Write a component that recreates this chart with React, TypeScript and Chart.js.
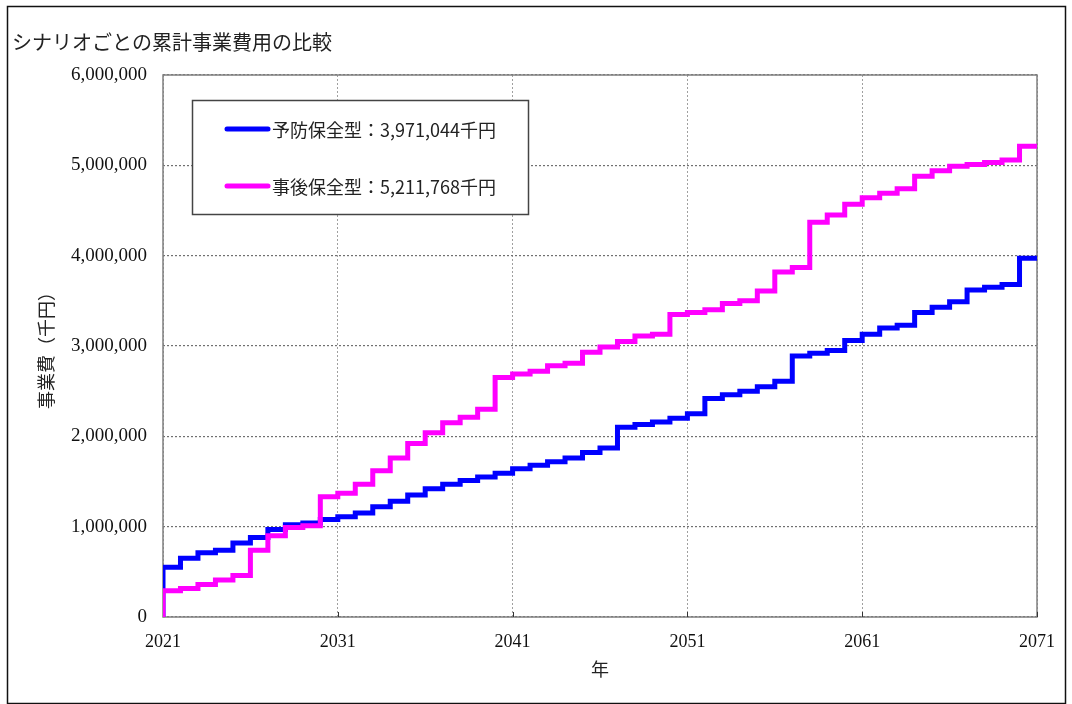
import React, { useEffect, useRef } from 'react';
import { Chart, registerables } from 'chart.js';

Chart.register(...registerables);

const chartTitle = 'シナリオごとの累計事業費用の比較';
const xAxisTitle = '年';
const yAxisTitle = '事業費（千円）';
const seriesNames = ['予防保全型', '事後保全型'];

const years = [
  2021, 2022, 2023, 2024, 2025, 2026, 2027, 2028, 2029, 2030,
  2031, 2032, 2033, 2034, 2035, 2036, 2037, 2038, 2039, 2040,
  2041, 2042, 2043, 2044, 2045, 2046, 2047, 2048, 2049, 2050,
  2051, 2052, 2053, 2054, 2055, 2056, 2057, 2058, 2059, 2060,
  2061, 2062, 2063, 2064, 2065, 2066, 2067, 2068, 2069, 2070,
  2071,
];

// cumulative cost (thousand yen), preventive maintenance
const preventive = [
  0,
  550000, 650000, 710000, 740000, 820000, 880000, 970000, 1020000, 1040000, 1080000,
  1110000, 1150000, 1220000, 1280000, 1350000, 1420000, 1470000, 1510000, 1550000, 1590000,
  1640000, 1680000, 1720000, 1760000, 1820000, 1870000, 2100000, 2130000, 2160000, 2200000,
  2250000, 2420000, 2460000, 2500000, 2550000, 2610000, 2890000, 2920000, 2950000, 3060000,
  3130000, 3200000, 3230000, 3370000, 3430000, 3490000, 3620000, 3650000, 3680000, 3971044,
];

// cumulative cost (thousand yen), corrective maintenance
const corrective = [
  0,
  290000, 315000, 360000, 410000, 460000, 740000, 900000, 990000, 1010000, 1330000,
  1370000, 1470000, 1620000, 1760000, 1920000, 2040000, 2150000, 2210000, 2300000, 2650000,
  2690000, 2720000, 2780000, 2810000, 2930000, 2990000, 3050000, 3110000, 3130000, 3350000,
  3370000, 3400000, 3470000, 3500000, 3610000, 3820000, 3870000, 4370000, 4450000, 4570000,
  4640000, 4690000, 4740000, 4880000, 4940000, 4990000, 5010000, 5030000, 5060000, 5211768,
];

const yTicksMax = 6000000;
const yTickStep = 1000000;
const xTickStep = 10;

const cjkFont = '"Noto Sans CJK JP", "Noto Sans", sans-serif';
const serifFont = '"Liberation Serif", "DejaVu Serif", serif';

const overlayPlugin = {
  id: 'overlay',
  beforeDatasetsDraw(chart: any) {
    const { ctx, chartArea: a } = chart;
    ctx.save();
    ctx.strokeStyle = '#808080';
    ctx.lineWidth = 1.5;
    ctx.strokeRect(a.left, a.top, a.right - a.left, a.bottom - a.top);
    const xs = chart.scales.x;
    ctx.strokeStyle = '#333';
    ctx.lineWidth = 1;
    xs.ticks.forEach((t: any) => {
      const px = Math.round(xs.getPixelForValue(t.value)) + 0.5;
      ctx.beginPath();
      ctx.moveTo(px, a.bottom);
      ctx.lineTo(px, a.bottom - 5);
      ctx.stroke();
    });
    ctx.restore();
  },
  afterDraw(chart: any) {
    const { ctx } = chart;
    ctx.save();
    // outer frame
    ctx.strokeStyle = '#111';
    ctx.lineWidth = 1.5;
    ctx.strokeRect(7.5, 6.5, 1058, 697);
    // title
    ctx.fillStyle = '#222';
    ctx.font = `20px ${cjkFont}`;
    ctx.textBaseline = 'middle';
    ctx.textAlign = 'left';
    ctx.fillText(chartTitle, 12, 42);
    // legend box
    ctx.fillStyle = '#fff';
    ctx.fillRect(192, 100, 336, 114);
    ctx.strokeStyle = '#444';
    ctx.lineWidth = 1.5;
    ctx.strokeRect(192.5, 100.5, 336, 114);
    chart.data.datasets.forEach((ds: any, i: number) => {
      const y = 129 + i * 57;
      ctx.strokeStyle = ds.borderColor;
      ctx.lineWidth = 5;
      ctx.lineCap = 'round';
      ctx.beginPath();
      ctx.moveTo(227, y);
      ctx.lineTo(268, y);
      ctx.stroke();
      ctx.fillStyle = '#222';
      ctx.font = `18px ${cjkFont}`;
      ctx.textBaseline = 'middle';
      ctx.fillText(ds.label, 272, y + 1);
    });
    ctx.restore();
  },
};

function legendText(name: string, values: number[]) {
  return `${name}：${values[values.length - 1].toLocaleString('en-US')}千円`;
}

export default function App() {
  const canvasRef = useRef<HTMLCanvasElement | null>(null);

  useEffect(() => {
    const canvas = canvasRef.current;
    if (!canvas) return;
    const chart = new Chart(canvas, {
      type: 'line',
      data: {
        datasets: [
          {
            label: legendText(seriesNames[0], preventive),
            data: years.map((yr, i) => ({ x: yr, y: preventive[i] })),
            borderColor: '#0000ff',
            backgroundColor: '#0000ff',
            borderWidth: 5,
            pointRadius: 0,
            stepped: 'after',
            fill: false,
            order: 1,
          },
          {
            label: legendText(seriesNames[1], corrective),
            data: years.map((yr, i) => ({ x: yr, y: corrective[i] })),
            borderColor: '#ff00ff',
            backgroundColor: '#ff00ff',
            borderWidth: 5,
            pointRadius: 0,
            stepped: 'after',
            fill: false,
            order: 0,
          },
        ],
      },
      options: {
        responsive: false,
        animation: false,
        devicePixelRatio: 1,
        layout: { padding: { left: 0, top: 75, right: 35, bottom: 0 } },
        plugins: {
          legend: { display: false },
          tooltip: { enabled: false },
          title: { display: false },
        },
        scales: {
          x: {
            type: 'linear',
            min: years[0],
            max: years[years.length - 1],
            afterFit: (s: any) => {
              s.height = 87;
            },
            ticks: {
              stepSize: xTickStep,
              padding: 14,
              color: '#111',
              font: { family: serifFont, size: 18 },
              callback: (v: any) => String(v),
            },
            grid: {
              drawTicks: false,
              color: '#a0a0a0',
              lineWidth: 1,
            },
            border: { display: false, dash: [2, 2] },
            title: {
              display: true,
              text: xAxisTitle,
              color: '#222',
              font: { family: cjkFont, size: 18 },
              padding: { top: 0, bottom: 24 },
            },
          },
          y: {
            type: 'linear',
            min: 0,
            max: yTicksMax,
            afterFit: (s: any) => {
              s.width = 163;
            },
            ticks: {
              stepSize: yTickStep,
              padding: 16,
              color: '#111',
              font: { family: serifFont, size: 19 },
            },
            grid: {
              drawTicks: false,
              color: '#707070',
              lineWidth: 1.2,
            },
            border: { display: false, dash: [2, 2] },
            title: {
              display: true,
              text: yAxisTitle,
              color: '#222',
              font: { family: cjkFont, size: 18 },
              padding: { top: 35, bottom: 0 },
            },
          },
        },
      },
      plugins: [overlayPlugin],
    } as any);
    return () => chart.destroy();
  }, []);

  return (
    <div style={{ position: 'absolute', left: 0, top: 0, width: 1072, height: 704, background: '#fff' }}>
      <canvas ref={canvasRef} width={1072} height={704} style={{ width: 1072, height: 704, display: 'block' }} />
    </div>
  );
}
